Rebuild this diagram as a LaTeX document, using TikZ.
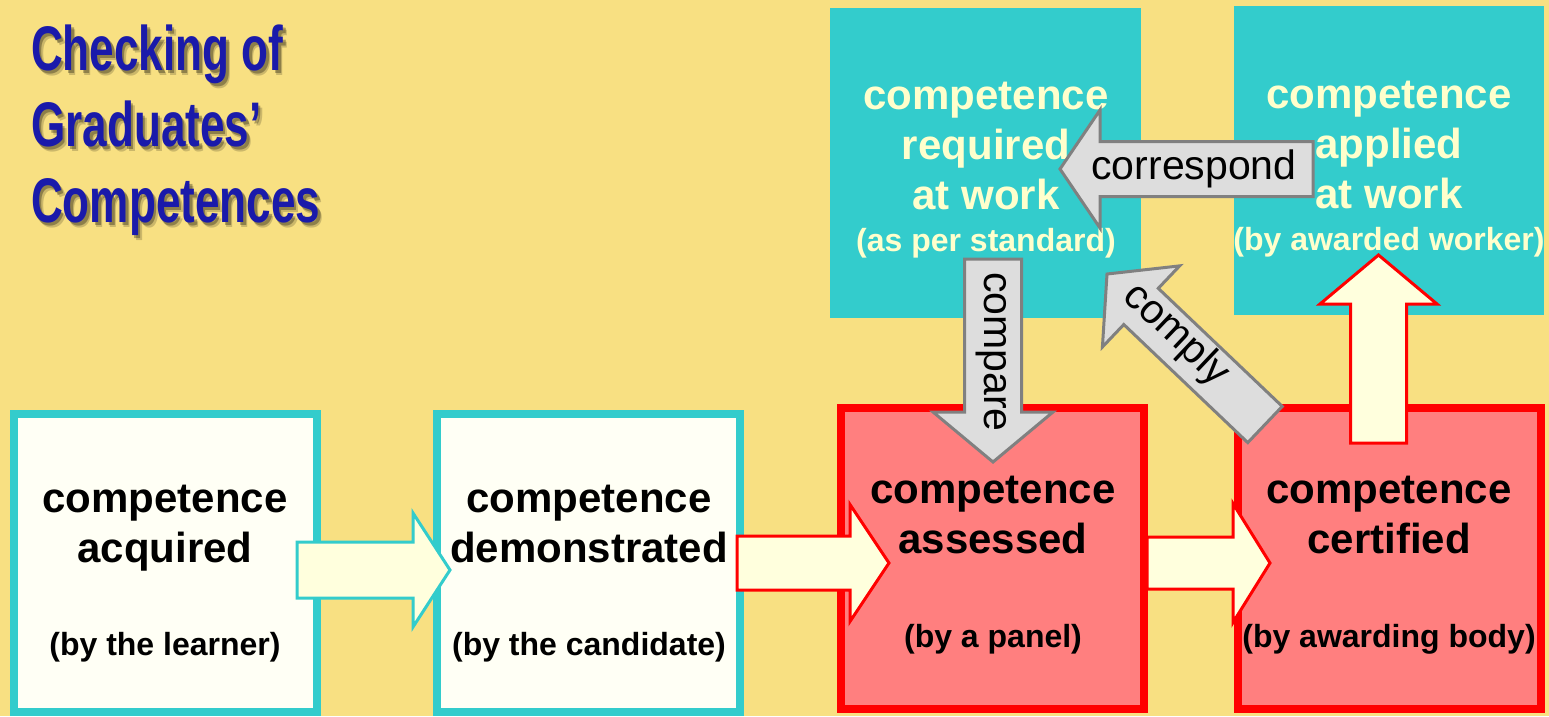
\documentclass[tikz,border=0pt]{standalone}
\usepackage{fontspec}
\setmainfont{Liberation Sans}
\usetikzlibrary{calc}

\definecolor{bgyellow}{HTML}{F8E082}
\definecolor{teal}{HTML}{33CCCC}
\definecolor{paper}{HTML}{FFFFF5}
\definecolor{cream}{HTML}{FFFFDD}
\definecolor{pinkfill}{HTML}{FF7F7F}
\definecolor{lightgray}{HTML}{DDDDDD}
\definecolor{midgray}{HTML}{808080}
\definecolor{paletext}{HTML}{FFFFCC}
\definecolor{titleblue}{HTML}{1A1AAA}

% block arrow from #2 (tail) to #3 (tip):
% #4 half shaft width, #5 half head width, #6 head length
\newcommand\blockarrow[6]{%
  \draw[#1] ($(#2)!#4!90:(#3)$)
    -- ($(#3)!#6!(#2)!#4!-90:(#2)$)
    -- ($(#3)!#6!(#2)!#5!-90:(#2)$)
    -- (#3)
    -- ($(#3)!#6!(#2)!#5!90:(#2)$)
    -- ($(#3)!#6!(#2)!#4!90:(#2)$)
    -- ($(#2)!#4!-90:(#3)$) -- cycle;}

\tikzset{
  whitebox/.style={draw=teal, fill=paper, line width=8pt, minimum width=303pt, minimum height=298pt, inner sep=0pt},
  redbox/.style={draw=red, fill=pinkfill, line width=8pt, minimum width=303pt, minimum height=301pt, inner sep=0pt},
  workbox/.style={fill=teal, inner sep=0pt},
  % multi-line nodes: the base anchor sits on the last line
  maintext/.style={align=center, font=\fontsize{42}{50}\selectfont\bfseries, inner sep=0pt},
  subtext/.style={font=\fontsize{32}{36}\selectfont\bfseries, inner sep=0pt},
  tealarrow/.style={draw=teal, fill=cream, line width=3pt, line join=miter},
  redarrow/.style={draw=red, fill=cream, line width=3pt, line join=miter},
  grayarrow/.style={draw=midgray, fill=lightgray, line width=3pt, line join=miter},
  arrowlabel/.style={font=\fontsize{41}{48}\selectfont, inner sep=0pt},
  titletext/.style={align=left, anchor=base west, xscale=0.70, inner sep=0pt,
    font=\fontsize{63}{76}\selectfont\bfseries},
}

\begin{document}
\begin{tikzpicture}[x=1pt, y=-1pt]
  % canvas
  \fill[bgyellow] (0,0) rectangle (1549,716);
  \useasboundingbox (0,0) rectangle (1549,716);

  % title with soft shadow
  \node[titletext, text=black, opacity=0.18] (titleshadowb) at (35,227) {Checking of\\Graduates’\\Competences};
  \node[titletext, text=black, opacity=0.30] (titleshadow) at (33.5,225) {Checking of\\Graduates’\\Competences};
  \node[titletext, text=titleblue] (title) at (31,222) {Checking of\\Graduates’\\Competences};

  % boxes at the workplace
  \node[workbox, minimum width=311pt, minimum height=310pt] (req) at (985.5,163) {};
  \node[workbox, minimum width=310pt, minimum height=309pt] (app) at (1389,160.5) {};

  \node[maintext, text=paletext, anchor=base] (reqT) at (986,209) {competence\\required\\at work};
  \node[subtext, text=paletext, anchor=base] (reqS) at (986,251) {(as per standard)};
  \node[maintext, text=paletext, anchor=base] (appT) at (1389,208) {competence\\applied\\at work};
  \node[subtext, text=paletext, anchor=base] (appS) at (1389,250) {(by awarded worker)};

  % the four stages
  \node[whitebox] (acq) at (165.5,563) {};
  \node[whitebox] (dem) at (588.5,563) {};
  \node[redbox] (ass) at (992,558.5) {};
  \node[redbox] (cer) at (1389.5,558.5) {};

  % arrow ends
  \coordinate (a1s) at (297,570);    \coordinate (a1e) at (450,570);
  \coordinate (a2s) at (737,563);    \coordinate (a2e) at (889,563);
  \coordinate (a3s) at (1147,563);   \coordinate (a3e) at (1270,563);
  \coordinate (ups) at (1378.5,443); \coordinate (upe) at (1378.5,255);
  \coordinate (cps) at (993,259);    \coordinate (cpe) at (993,462);
  \coordinate (crs) at (1313,169);   \coordinate (cre) at (1060,169);
  \coordinate (cys) at (1265,424.5); \coordinate (cye) at (1107,274);

  % flow arrows
  \blockarrow{tealarrow}{a1s}{a1e}{28pt}{57pt}{37pt}
  \blockarrow{redarrow}{a2s}{a2e}{27pt}{58.5pt}{39pt}
  \blockarrow{redarrow}{a3s}{a3e}{26pt}{59.5pt}{37pt}
  \blockarrow{redarrow}{ups}{upe}{28pt}{58.5pt}{49pt}

  % comparison arrows
  \blockarrow{grayarrow}{cps}{cpe}{28.5pt}{60pt}{50pt}
  \blockarrow{grayarrow}{crs}{cre}{27.5pt}{59pt}{40pt}
  \blockarrow{grayarrow}{cys}{cye}{25pt}{56pt}{47pt}

  \node[arrowlabel, rotate=-90] (cpL) at (991,352) {compare};
  \node[arrowlabel] (crL) at (1194,169) {correspond};
  \node[arrowlabel, rotate=-43.5] (cyL) at (1176,335) {comply};

  % stage texts
  \node[maintext, anchor=base] (acqT) at (165,562) {competence\\acquired};
  \node[subtext, anchor=base] (acqS) at (165,655) {(by the learner)};
  \node[maintext, anchor=base] (demT) at (589,562) {competence\\demonstrated};
  \node[subtext, anchor=base] (demS) at (589,655) {(by the candidate)};
  \node[maintext, anchor=base] (assT) at (993,553) {competence\\assessed};
  \node[subtext, anchor=base] (assS) at (993,647) {(by a panel)};
  \node[maintext, anchor=base] (cerT) at (1389,553) {competence\\certified};
  \node[subtext, anchor=base] (cerS) at (1389,647) {(by awarding body)};
\end{tikzpicture}
\end{document}
